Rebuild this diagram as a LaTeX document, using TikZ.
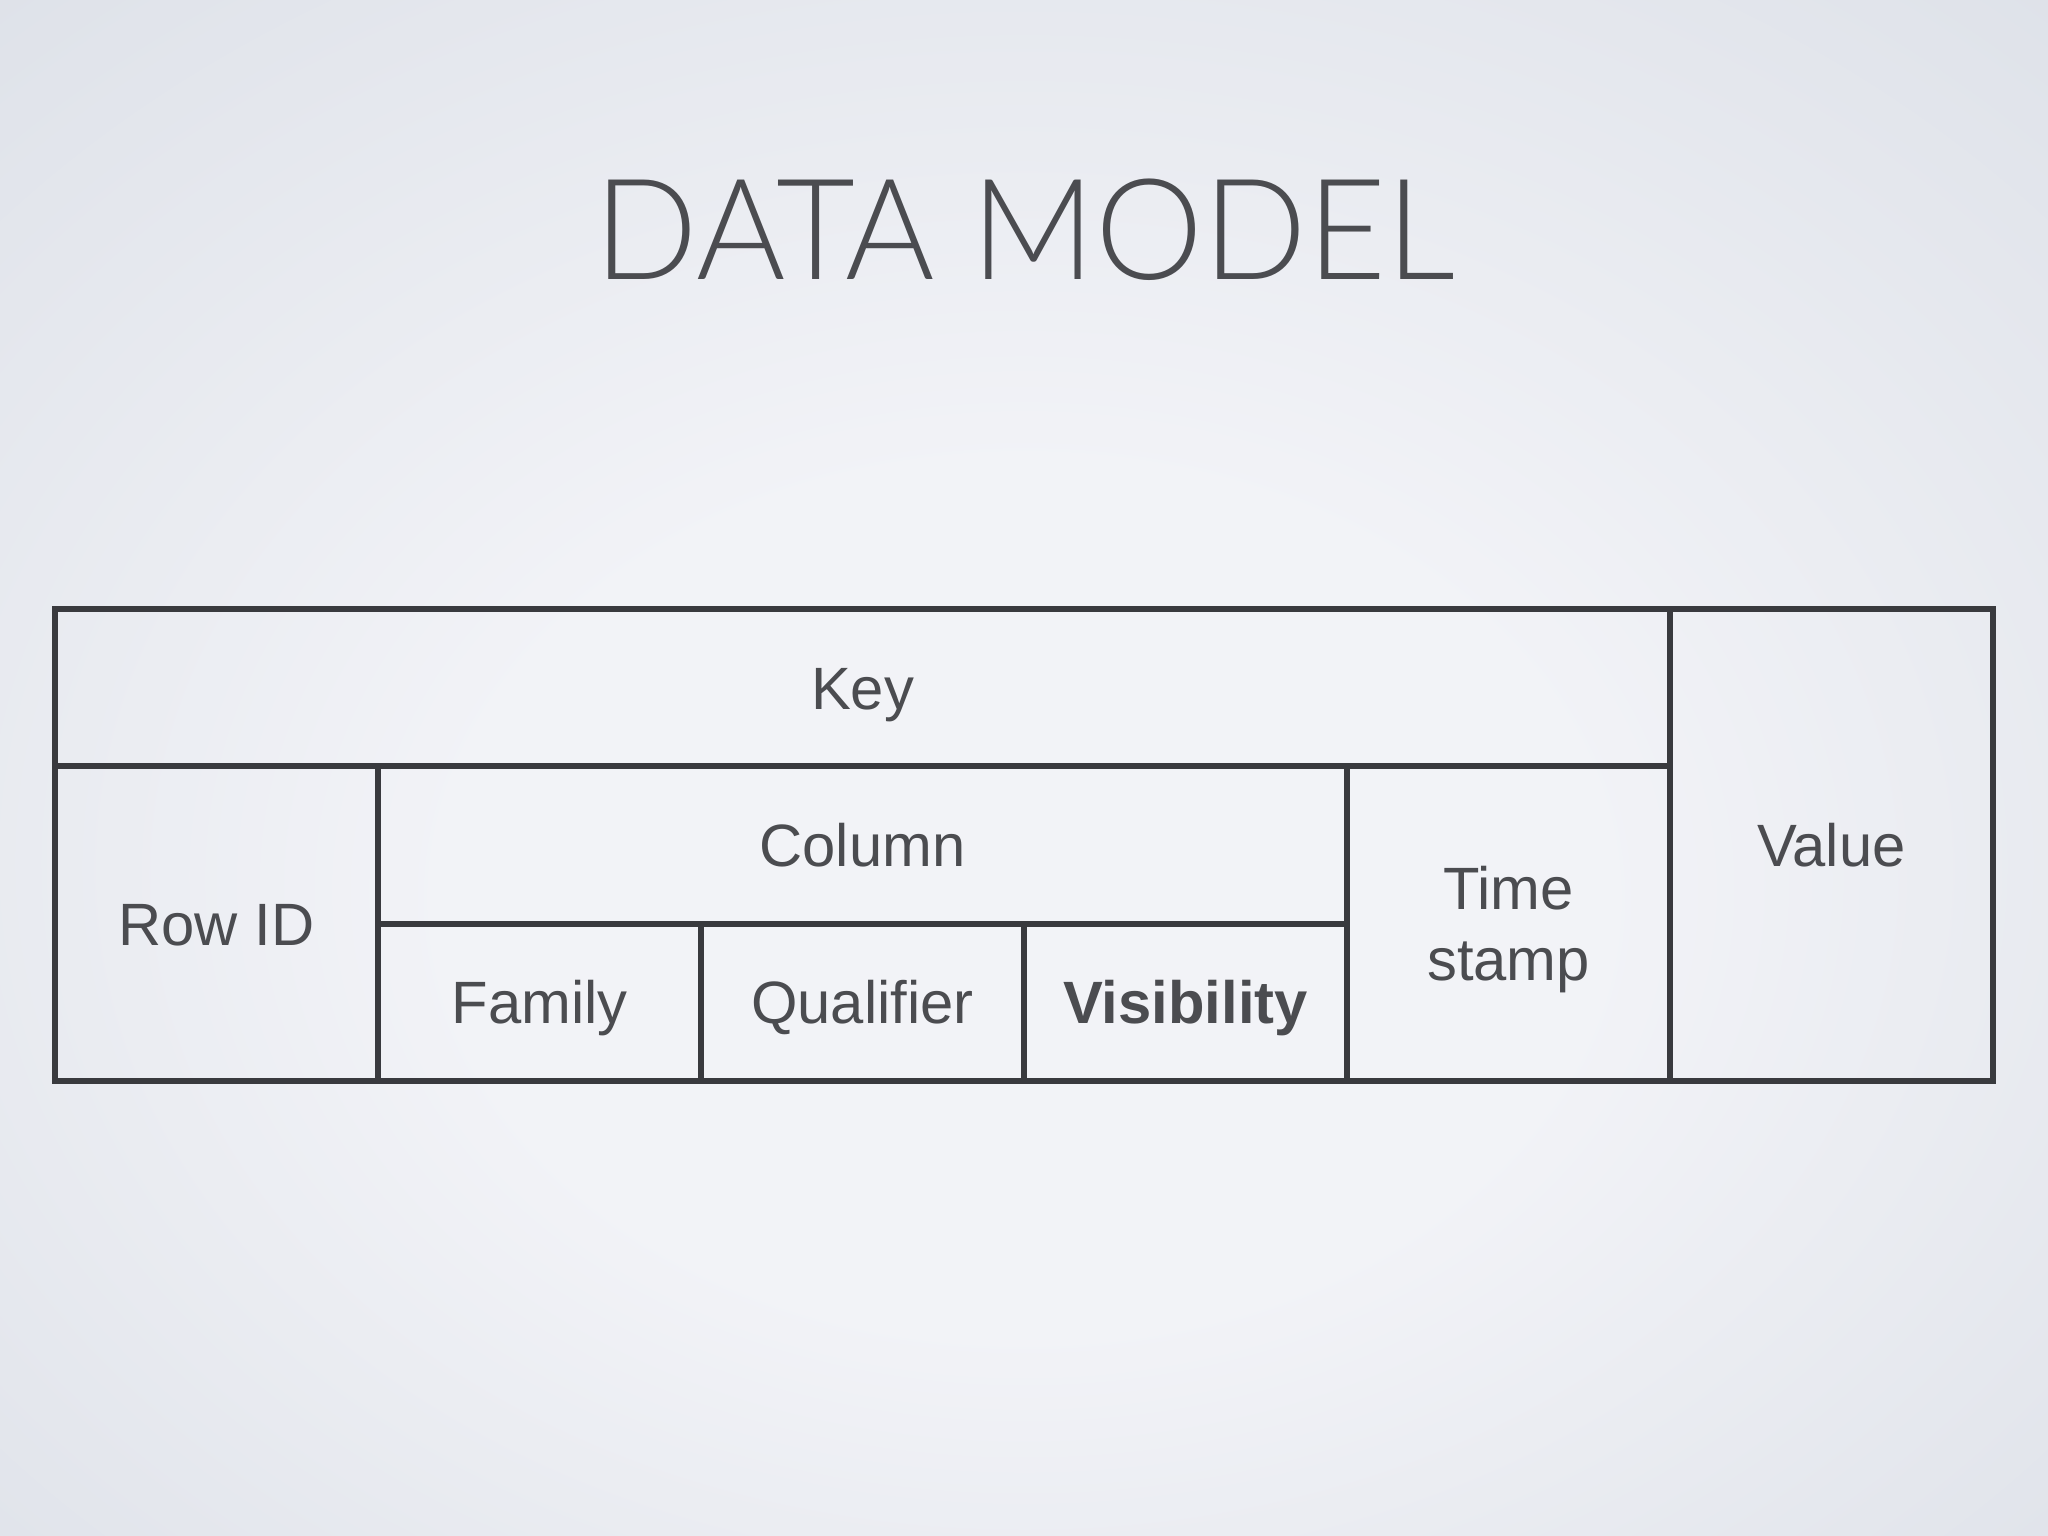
\documentclass[tikz,border=0pt]{standalone}
\usepackage{fontspec}
\setmainfont{Liberation Sans}
\newfontfamily\titlefont{Lato Light}
\usepackage{tikz}

\definecolor{bgin}{HTML}{F2F3F7}
\definecolor{bgout}{HTML}{D3D8E1}
\definecolor{linegray}{HTML}{393A3E}
\definecolor{textgray}{HTML}{4B4C50}

\pgfdeclareradialshading{slidebg}{\pgfpoint{0bp}{-6bp}}{color(0bp)=(bgin); color(14bp)=(bgin); color(50bp)=(bgout)}

\tikzset{
  cell/.style={draw=linegray, line width=1.7pt, outer sep=0pt, inner sep=0pt,
    anchor=north west, text=textgray, font=\fontsize{17}{20}\selectfont,
    text height=12.2pt, text depth=0pt, minimum width=3.23cm, minimum height=1.573cm},
}

\begin{document}
\begin{tikzpicture}
\shade[shading=slidebg] (0,0) rectangle (20.48,15.36);
\useasboundingbox (0,0) rectangle (20.48,15.36);

\node[anchor=base, text=textgray, xscale=0.97, font=\titlefont\fontsize{40}{44}\selectfont] (title) at (10.25,12.565) {DATA MODEL};

% top row
\node[cell, minimum width=16.15cm] (key) at (0.55,9.27) {Key};
\node[cell, minimum height=4.719cm] (value) at (16.70,9.27) {Value};

% key parts
\node[cell, minimum height=3.146cm] (rowid) at (0.55,7.697) {Row ID};
\node[cell, minimum width=9.69cm] (column) at (3.78,7.697) {Column};
\node[cell, minimum height=3.146cm, align=center, text height=32.2pt] (timestamp) at (13.47,7.697) {Time\\stamp};

% column parts
\node[cell] (family) at (3.78,6.124) {Family};
\node[cell] (qualifier) at (7.01,6.124) {Qualifier};
\node[cell, font=\fontsize{17}{20}\selectfont\bfseries] (visibility) at (10.24,6.124) {Visibility};
\end{tikzpicture}
\end{document}
